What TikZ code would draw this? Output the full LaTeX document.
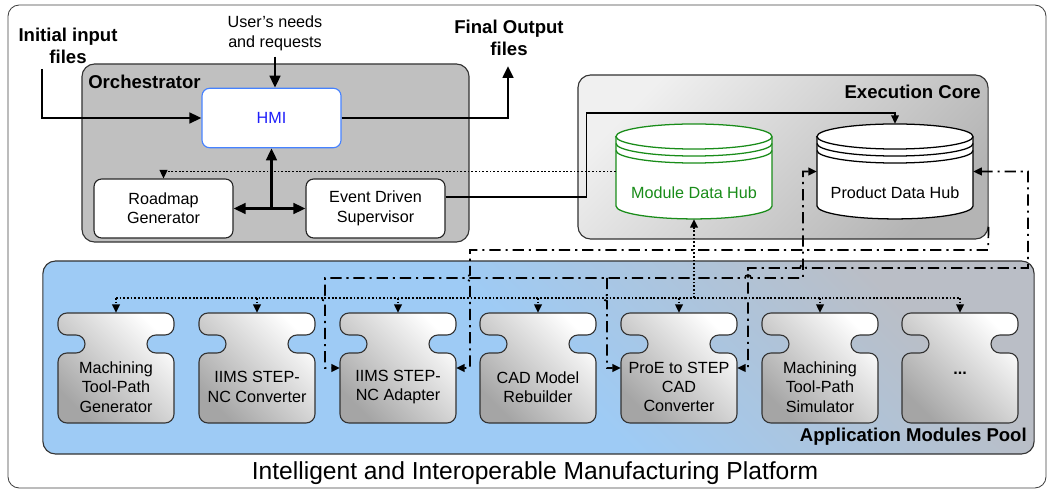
\documentclass[tikz,border=0pt]{standalone}
\usepackage{fontspec}
\setmainfont{Liberation Sans}
\usetikzlibrary{arrows.meta,calc}

\definecolor{orchgray}{RGB}{192,192,192}
\definecolor{hmiblue}{RGB}{70,130,255}
\definecolor{hmitext}{RGB}{30,30,250}
\definecolor{hubgreen}{RGB}{25,140,25}
\definecolor{poolblue}{RGB}{158,203,245}
\definecolor{poolgray}{RGB}{186,190,198}
\definecolor{coreleft}{RGB}{240,240,240}
\definecolor{coreright}{RGB}{180,180,180}
\definecolor{piecegray}{RGB}{165,165,165}

% puzzle outline of one application module, centred at #1
\newcommand{\piece}[1]{%
  \draw[piece, shift={#1}] (0,-55) -- (58,-55) -- (58,-33) -- (31,-33) -- (31,-15) -- (58,-15)
    -- (58,55) -- (-58,55) -- (-58,-15) -- (-31,-15) -- (-31,-33) -- (-58,-33) -- (-58,-55) -- cycle;}

% data hub drum, centred at #1, drawn in colour #2
\newcommand{\hubdisk}[2]{%
  \begin{scope}[shift={#1}, color=#2, line width=0.9pt]
    \draw[fill=white] (-78,-35) -- (-78,34.5) arc[start angle=180,end angle=360,x radius=55.48pt,y radius=9.2pt]
      -- (78,-35) arc[start angle=0,end angle=180,x radius=55.48pt,y radius=8.9pt] -- cycle;
    \foreach \dy in {0,7,14}
      \draw (-78,-35+\dy) arc[start angle=180,end angle=360,x radius=55.48pt,y radius=8.9pt];
  \end{scope}}

\def\hr{2.134pt}

\begin{document}
\begin{tikzpicture}[x=0.025cm, y=-0.025cm,
    every node/.style={font=\fontsize{11.5}{13.8}\selectfont},
    boxlabel/.style={font=\fontsize{13.2}{15.5}\selectfont\bfseries, inner sep=0pt},
    groupbox/.style={draw=black!80, line width=0.8pt, rounded corners=9pt, inner sep=0pt},
    unitbox/.style={draw=black!85, fill=white, line width=0.8pt, rounded corners=5.5pt,
      minimum width=3.475cm, align=center},
    hubbox/.style={minimum width=3.9cm, minimum height=2.375cm, inner sep=0pt},
    modbox/.style={minimum width=2.9cm, minimum height=2.75cm, inner sep=0pt},
    modtext/.style={align=center, inner sep=0pt},
    piece/.style={draw=black!80, line width=0.8pt, rounded corners=6.4pt,
      top color=white, bottom color=piecegray, shading angle=-45},
    flow/.style={line width=2pt, -{Triangle[length=8.5pt,width=7.5pt]}},
    flowboth/.style={line width=2pt, {Triangle[length=8.5pt,width=7.5pt]}-{Triangle[length=8.5pt,width=7.5pt]}},
    link/.style={line width=1.1pt, -{Triangle[length=6pt,width=5.5pt]}},
    modline/.style={line width=1.2pt, dash pattern=on 1.3pt off 1.3pt},
    modlink/.style={modline, -{Triangle[length=6pt,width=5.5pt]}},
    prodline/.style={line width=1.2pt, dash pattern=on 8pt off 3.5pt on 1.5pt off 3.5pt},
    tipend/.style={-{Triangle[length=6pt,width=5.5pt]}},
    tipboth/.style={{Triangle[length=6pt,width=5.5pt]}-{Triangle[length=6pt,width=5.5pt]}}]
  \useasboundingbox (0,0) rectangle (1050,490);

  \draw[black!75, line width=0.6pt, rounded corners=8pt] (8,5) rectangle (1046,488);

  % containers
  \node[groupbox, fill=orchgray, minimum width=9.675cm, minimum height=4.45cm] (orch) at (275.5,153) {};
  \node[boxlabel, anchor=west] (orchlbl) at (88,82) {Orchestrator};
  \node[groupbox, top color=coreleft, bottom color=coreright, shading angle=45,
    minimum width=10.25cm, minimum height=4.1cm] (exec) at (783,157) {};
  \node[boxlabel, anchor=east] (execlbl) at (981,92) {Execution Core};
  \node[groupbox, top color=poolgray, bottom color=poolblue, middle color=poolblue, shading angle=-45,
    minimum width=24.775cm, minimum height=4.825cm] (pool) at (538.5,357.5) {};
  \node[boxlabel, anchor=east] (poollbl) at (1027,437) {Application Modules Pool};

  \node[font=\fontsize{17.5}{21}\selectfont] (title) at (535,473) {Intelligent and Interoperable Manufacturing Platform};

  % orchestrator units
  \node[unitbox, draw=hmiblue, text=hmitext, minimum height=1.4875cm] (hmi) at (271.5,118) {HMI};
  \node[unitbox, minimum height=1.475cm] (road) at (163.5,208.5) {Roadmap\\Generator};
  \node[unitbox, minimum height=1.475cm] (eds) at (375.5,208.5) {Event Driven\\Supervisor};

  \node[boxlabel, align=center] (inlbl) at (68,45.5) {Initial input\\files};
  \node[boxlabel, align=center] (outlbl) at (509,38) {Final Output\\files};
  \node[align=center, inner sep=0pt] (needs) at (275,33.5) {User's needs\\and requests};

  % data hubs
  \hubdisk{(694,171.5)}{hubgreen}
  \hubdisk{(895,171.5)}{black}
  \node[hubbox] (mdh) at (694,171.5) {};
  \node[text=hubgreen] (mdhtxt) at ([yshift=-15.3pt]mdh.center) {Module Data Hub};
  \node[hubbox] (pdh) at (895,171.5) {};
  \node (pdhtxt) at ([yshift=-15.3pt]pdh.center) {Product Data Hub};

  % application modules
  \foreach \i/\mx/\ty/\mtext in {1/116/13.5/{Machining\\Tool-Path\\Generator},
      2/257/13.5/{IIMS STEP-\\NC Converter}, 3/398/13.5/{IIMS STEP-\\NC Adapter},
      4/538/13.5/{CAD Model\\Rebuilder}, 5/679/13.5/{ProE to STEP\\CAD\\Converter},
      6/820/13.5/{Machining\\Tool-Path\\Simulator}, 7/960/3.5/{\textbf{...}}}{
    \piece{(\mx,368)}
    \node[modbox] (m\i) at (\mx,368) {};
    \node[modtext] (t\i) at ([yshift=-\ty pt]m\i.center) {\mtext};
  }

  % user side
  \coordinate (inp) at (42,69);
  \coordinate (outp) at (508,66);
  \draw[flow] (inp) |- (hmi.west);
  \draw[flow] (hmi.east) -| (outp);
  \draw[flow] ([yshift=-4pt]needs.south) -- (needs.south |- hmi.north);
  \coordinate (junc) at (hmi.south |- road.east);
  \draw[flow] (junc) -- (hmi.south);
  \draw[flowboth] (road.east) -- (eds.west);

  % supervisor to product hub
  \draw[link] ([yshift=8.2pt]eds.east) -| (586.5,113) -| (pdh.north);

  % module data
  \draw[modlink] (mdh.west) -| (road.north);
  \coordinate (busL) at (116,298);
  \coordinate (busR) at (960,298);
  \draw[modline] (busL) -- (busR);
  \foreach \i in {1,...,7}
    \draw[modlink] (m\i.north |- busL) -- (m\i.north);
  \draw[modlink] (mdh.south |- busL) -- (mdh.south);

  % product data
  \draw[prodline, tipboth] (pdh.west) -- (803,171.5) -- (803,278)
    -- (751,278) arc[start angle=0,end angle=180,radius=\hr]
    -- (697,278) arc[start angle=0,end angle=180,radius=\hr]
    -- (325,278) -- (325,295) arc[start angle=90,end angle=270,radius=\hr]
    -- (325,368) -- (m3.west);
  \coordinate (forkA) at (607,278);
  \draw[prodline, tipend] (forkA) -- (607,295) arc[start angle=90,end angle=270,radius=\hr]
    -- (607,368) -- (m5.west);
  \draw[prodline, tipboth] (pdh.east) -- (1028,171.5) -- (1028,268)
    -- (806,268) arc[start angle=0,end angle=180,radius=\hr]
    -- (748,268) -- (748,295) arc[start angle=90,end angle=270,radius=\hr]
    -- (748,368) -- (m5.east);
  \draw[prodline, tipend] ([yshift=9pt]exec.south east) -- (988,250) -- (470,250)
    -- (470,275) arc[start angle=90,end angle=270,radius=\hr]
    -- (470,368) -- (m3.east);
\end{tikzpicture}
\end{document}
